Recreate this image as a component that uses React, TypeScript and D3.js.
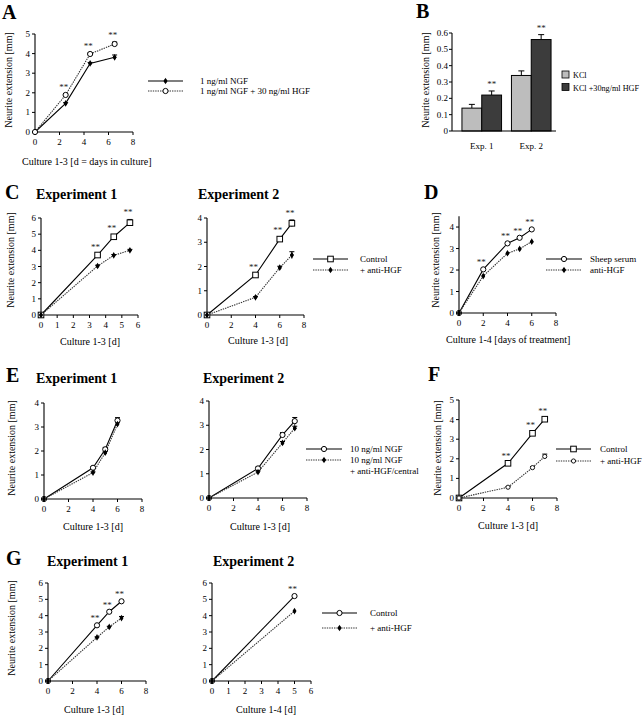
import React from "react";
import * as d3 from "d3";

const FONT = "'Liberation Serif', 'Times New Roman', serif";

// ---------- Panel A ----------
const A_days = [0, 2.5, 4.5, 6.5];
const A_ngf = [0, 1.46, 3.5, 3.81];
const A_ngfErr = [0, 0.04, 0.05, 0.12];
const A_ngfHgf = [0, 1.89, 3.98, 4.49];
const A_ngfHgfErr = [0, 0.04, 0.05, 0.1];
const A_stars = [2.5, 4.5, 6.5];
const A_xTicks = [0, 2, 4, 6, 8];
const A_yTicks = [0, 1, 2, 3, 4, 5];
const A_legend = ["1 ng/ml NGF", "1 ng/ml NGF + 30 ng/ml HGF"];

// ---------- Panel B ----------
const B_cats = ["Exp. 1", "Exp. 2"];
const B_series = ["KCl", "KCl +30ng/ml HGF"];
const B_kcl = [0.14, 0.34];
const B_kclErr = [0.023, 0.028];
const B_hgf = [0.22, 0.56];
const B_hgfErr = [0.025, 0.03];
const B_yTicks = [0, 0.1, 0.2, 0.3, 0.4, 0.5, 0.6];
const B_yTickLabels = ["0", "0.1", "0.2", "0.3", "0.4", "0.5", "0.6"];

// ---------- Panel C ----------
const C1_days = [0, 3.5, 4.5, 5.5];
const C1_control = [0, 3.71, 4.84, 5.71];
const C1_controlErr = [0, 0.08, 0.08, 0.2];
const C1_anti = [0, 3.03, 3.69, 4.0];
const C1_antiErr = [0, 0.05, 0.05, 0.06];
const C1_stars = [3.5, 4.5, 5.5];
const C1_xTicks = [0, 1, 2, 3, 4, 5, 6];
const C1_yTicks = [0, 1, 2, 3, 4, 5, 6];

const C2_days = [0, 4, 6, 7];
const C2_control = [0, 1.65, 3.13, 3.78];
const C2_controlErr = [0, 0.05, 0.08, 0.14];
const C2_anti = [0, 0.73, 1.95, 2.47];
const C2_antiErr = [0, 0.03, 0.06, 0.14];
const C2_stars = [4, 6, 7];
const C2_xTicks = [0, 2, 4, 6, 8];
const C2_yTicks = [0, 1, 2, 3, 4];
const C_legend = ["Control", "+ anti-HGF"];

// ---------- Panel D ----------
const D_days = [0, 2, 4, 5, 6];
const D_sheep = [0, 2.03, 3.24, 3.5, 3.89];
const D_anti = [0, 1.72, 2.78, 2.98, 3.32];
const D_stars = [2, 4, 5, 6];
const D_xTicks = [0, 2, 4, 6, 8];
const D_yTicks = [0, 1, 2, 3, 4];
const D_legend = ["Sheep serum", "anti-HGF"];

// ---------- Panel E ----------
const E1_days = [0, 4, 5, 6];
const E1_ngf = [0, 1.3, 2.07, 3.27];
const E1_ngfErr = [0, 0.05, 0.08, 0.12];
const E1_anti = [0, 1.1, 1.93, 3.12];
const E1_antiErr = [0, 0.03, 0.05, 0.06];
const E2_days = [0, 4, 6, 7];
const E2_ngf = [0, 1.22, 2.6, 3.17];
const E2_ngfErr = [0, 0.06, 0.1, 0.15];
const E2_anti = [0, 1.07, 2.27, 2.88];
const E2_antiErr = [0, 0.04, 0.06, 0.08];
const E_xTicks = [0, 2, 4, 6, 8];
const E_yTicks = [0, 1, 2, 3, 4];
const E_legend = ["10 ng/ml NGF", "10 ng/ml NGF", "+ anti-HGF/central"];

// ---------- Panel F ----------
const F_days = [0, 4, 6, 7];
const F_control = [0, 1.77, 3.3, 4.02];
const F_controlErr = [0, 0.04, 0.06, 0.08];
const F_anti = [0, 0.55, 1.55, 2.12];
const F_antiErr = [0, 0.03, 0.05, 0.12];
const F_stars = [4, 6, 7];
const F_xTicks = [0, 2, 4, 6, 8];
const F_yTicks = [0, 1, 2, 3, 4, 5];
const F_legend = ["Control", "+ anti-HGF"];

// ---------- Panel G ----------
const G1_days = [0, 4, 5, 6];
const G1_control = [0, 3.41, 4.24, 4.88];
const G1_anti = [0, 2.67, 3.31, 3.85];
const G1_antiErr = [0, 0.03, 0.04, 0.1];
const G1_stars = [4, 5, 6];
const G1_xTicks = [0, 2, 4, 6, 8];
const G2_days = [0, 5];
const G2_control = [0, 5.2];
const G2_anti = [0, 4.28];
const G2_stars = [5];
const G2_xTicks = [0, 1, 2, 3, 4, 5, 6];
const G_yTicks = [0, 1, 2, 3, 4, 5, 6];
const G_legend = ["Control", "+ anti-HGF"];

const Y_LABEL = "Neurite extension [mm]";
const LEG_SIZE = 9;

type Marker = "circleOpen" | "squareOpen" | "diamondFilled" | "circleSmall";

interface Series {
  xs: number[];
  ys: number[];
  errs?: number[];
  marker: Marker;
  dashed: boolean;
}

const diamondPath = d3.symbol().type(d3.symbolDiamond).size(13)() as string;

function MarkerShape({ m, x, y }: { m: Marker; x: number; y: number }) {
  if (m === "circleOpen")
    return <circle cx={x} cy={y} r={2.6} fill="#fff" stroke="#000" strokeWidth={1} />;
  if (m === "circleSmall")
    return <circle cx={x} cy={y} r={2.1} fill="#fff" stroke="#000" strokeWidth={0.9} />;
  if (m === "squareOpen")
    return <rect x={x - 2.8} y={y - 2.8} width={5.6} height={5.6} fill="#fff" stroke="#000" strokeWidth={1} />;
  return (
    <g transform={`translate(${x},${y})`}>
      <path d={diamondPath} fill="#000" />
      <circle r={1.7} fill="#000" />
    </g>
  );
}

function lineStyle(dashed: boolean) {
  return dashed
    ? { stroke: "#333", strokeWidth: 1.1, strokeDasharray: "1.4 1" }
    : { stroke: "#000", strokeWidth: 1.1 };
}

interface PlotProps {
  xDom: [number, number];
  xRange: [number, number];
  yDom: [number, number];
  yRange: [number, number];
  xTicks: number[];
  yTicks: number[];
  series: Series[];
  stars?: number[];
  starRef?: number;
}

function LinePlot({ xDom, xRange, yDom, yRange, xTicks, yTicks, series, stars, starRef }: PlotProps) {
  const x = d3.scaleLinear().domain(xDom).range(xRange);
  const y = d3.scaleLinear().domain(yDom).range(yRange);
  const line = d3.line<[number, number]>().x((d) => x(d[0])).y((d) => y(d[1]));
  const x0 = x(0);
  const y0 = y(0);
  const ref = starRef !== undefined ? series[starRef] : null;
  return (
    <g fontFamily={FONT}>
      <line x1={x0} x2={x0} y1={y0} y2={yRange[1]} stroke="#000" strokeWidth={1.1} />
      <line x1={x0} x2={xRange[1]} y1={y0} y2={y0} stroke="#000" strokeWidth={1.1} />
      {yTicks.map((t) => (
        <g key={"y" + t}>
          <line x1={x0 - 3} x2={x0} y1={y(t)} y2={y(t)} stroke="#000" strokeWidth={1} />
          <text x={x0 - 5} y={y(t) + 3} fontSize={9} textAnchor="end">{t}</text>
        </g>
      ))}
      {xTicks.map((t) => (
        <g key={"x" + t}>
          <line x1={x(t)} x2={x(t)} y1={y0} y2={y0 + 3} stroke="#000" strokeWidth={1} />
          <text x={x(t)} y={y0 + 13} fontSize={9} textAnchor="middle">{t}</text>
        </g>
      ))}
      {series.map((s, i) => (
        <path key={"l" + i} d={line(s.xs.map((v, j) => [v, s.ys[j]] as [number, number])) || ""} fill="none" {...lineStyle(s.dashed)} />
      ))}
      {series.map((s, i) =>
        s.errs
          ? s.errs.map((e, j) =>
              e > 0 ? (
                <g key={"e" + i + "-" + j}>
                  <line x1={x(s.xs[j])} x2={x(s.xs[j])} y1={y(s.ys[j] - e)} y2={y(s.ys[j] + e)} stroke="#000" strokeWidth={1} />
                  <line x1={x(s.xs[j]) - 2.5} x2={x(s.xs[j]) + 2.5} y1={y(s.ys[j] + e)} y2={y(s.ys[j] + e)} stroke="#000" strokeWidth={1} />
                </g>
              ) : null
            )
          : null
      )}
      {series.map((s, i) =>
        s.xs.map((v, j) => <MarkerShape key={"m" + i + "-" + j} m={s.marker} x={x(v)} y={y(s.ys[j])} />)
      )}
      {ref && stars
        ? stars.map((sx) => {
            const j = ref.xs.indexOf(sx);
            const top = ref.ys[j] + (ref.errs ? ref.errs[j] : 0);
            return (
              <text key={"s" + sx} x={x(sx) - 2} y={y(top) - 4} fontSize={9} textAnchor="middle" fill="#222">**</text>
            );
          })
        : null}
    </g>
  );
}

function LegendLine({ x1, x2, y, marker, dashed }: { x1: number; x2: number; y: number; marker: Marker; dashed: boolean }) {
  return (
    <g>
      <line x1={x1} x2={x2} y1={y} y2={y} fill="none" {...lineStyle(dashed)} />
      <MarkerShape m={marker} x={(x1 + x2) / 2} y={y} />
    </g>
  );
}

function YLabel({ x, cy }: { x: number; cy: number }) {
  return (
    <text transform={`translate(${x},${cy}) rotate(-90)`} textAnchor="middle" dominantBaseline="middle" fontSize={10} fontFamily={FONT}>
      {Y_LABEL}
    </text>
  );
}

function Letter({ x, y, t }: { x: number; y: number; t: string }) {
  return (
    <text x={x} y={y} fontSize={20} fontWeight="bold" fontFamily={FONT}>{t}</text>
  );
}

function Title({ x, y, t }: { x: number; y: number; t: string }) {
  return (
    <text x={x} y={y} fontSize={14} fontWeight="bold" fontFamily={FONT}>{t}</text>
  );
}

function Txt({ x, y, t, size = LEG_SIZE, anchor = "start" }: { x: number; y: number; t: string; size?: number; anchor?: string }) {
  return (
    <text x={x} y={y} fontSize={size} fontFamily={FONT} textAnchor={anchor as any}>{t}</text>
  );
}

function PanelB() {
  const y = d3.scaleLinear().domain([0, 0.6]).range([131, 33]);
  const xb = d3.scaleBand<string>().domain(B_cats).range([457, 556]).paddingInner(0.2).paddingOuter(0.1);
  const xs = d3.scaleBand<string>().domain(B_series).range([0, xb.bandwidth()]);
  const vals = [B_kcl, B_hgf];
  const errs = [B_kclErr, B_hgfErr];
  const fills = ["#bdbdbd", "#3c3c3c"];
  const x0 = 452;
  return (
    <g fontFamily={FONT}>
      {B_cats.map((c, ci) =>
        B_series.map((s, si) => {
          const bx = (xb(c) as number) + (xs(s) as number);
          const bw = xs.bandwidth();
          const v = vals[si][ci];
          const e = errs[si][ci];
          const cx = bx + bw / 2;
          return (
            <g key={c + s}>
              <line x1={cx} x2={cx} y1={y(v)} y2={y(v + e)} stroke="#000" strokeWidth={1} />
              <line x1={cx - 3} x2={cx + 3} y1={y(v + e)} y2={y(v + e)} stroke="#000" strokeWidth={1} />
              <rect x={bx} y={y(v)} width={bw} height={y(0) - y(v)} fill={fills[si]} stroke="#000" strokeWidth={1} />
              {si === 1 ? (
                <text x={cx} y={y(v + e) - 4} fontSize={9} textAnchor="middle" fill="#222">**</text>
              ) : null}
            </g>
          );
        })
      )}
      <line x1={x0} x2={x0} y1={y(0)} y2={y(0.6)} stroke="#000" strokeWidth={1.1} />
      <line x1={x0} x2={556} y1={y(0)} y2={y(0)} stroke="#000" strokeWidth={1.1} />
      {B_yTicks.map((t, i) => (
        <g key={t}>
          <line x1={x0 - 3} x2={x0} y1={y(t)} y2={y(t)} stroke="#000" strokeWidth={1} />
          <text x={x0 - 4} y={y(t) + 3} fontSize={9} textAnchor="end">{B_yTickLabels[i]}</text>
        </g>
      ))}
      {B_cats.map((c) => (
        <text key={c} x={(xb(c) as number) + xb.bandwidth() / 2} y={149} fontSize={9} textAnchor="middle">{c}</text>
      ))}
      {B_series.map((s, i) => (
        <g key={s}>
          <rect x={562} y={71 + i * 12.5} width={7} height={7} fill={fills[i]} stroke="#000" strokeWidth={0.8} />
          <text x={573} y={78 + i * 12.5} fontSize={8.2}>{s}</text>
        </g>
      ))}
    </g>
  );
}

export default function App() {
  return (
    <svg width={643} height={720} style={{ position: "absolute", left: 0, top: 0, background: "#fff" }} fontFamily={FONT}>
      <rect width={643} height={720} fill="#fff" />

      {/* ===== A ===== */}
      <Letter x={2} y={19} t="A" />
      <LinePlot
        xDom={[0, 8]} xRange={[35, 133]} yDom={[0, 5]} yRange={[132, 34]}
        xTicks={A_xTicks} yTicks={A_yTicks}
        series={[
          { xs: A_days, ys: A_ngf, errs: A_ngfErr, marker: "diamondFilled", dashed: false },
          { xs: A_days, ys: A_ngfHgf, errs: A_ngfHgfErr, marker: "circleOpen", dashed: true },
        ]}
        stars={A_stars} starRef={1}
      />
      <YLabel x={10} cy={80} />
      <Txt x={22} y={165} t="Culture 1-3 [d = days in culture]" size={10} />
      <LegendLine x1={148} x2={183} y={81} marker="diamondFilled" dashed={false} />
      <LegendLine x1={148} x2={183} y={91} marker="circleOpen" dashed={true} />
      <Txt x={200} y={84} t={A_legend[0]} />
      <Txt x={200} y={94} t={A_legend[1]} />

      {/* ===== B ===== */}
      <Letter x={416} y={18} t="B" />
      <PanelB />
      <YLabel x={427} cy={80} />

      {/* ===== C ===== */}
      <Letter x={5} y={199} t="C" />
      <Title x={36} y={199} t="Experiment 1" />
      <Title x={198} y={199} t="Experiment 2" />
      <LinePlot
        xDom={[0, 6]} xRange={[41, 138]} yDom={[0, 6]} yRange={[315, 218]}
        xTicks={C1_xTicks} yTicks={C1_yTicks}
        series={[
          { xs: C1_days, ys: C1_control, errs: C1_controlErr, marker: "squareOpen", dashed: false },
          { xs: C1_days, ys: C1_anti, errs: C1_antiErr, marker: "diamondFilled", dashed: true },
        ]}
        stars={C1_stars} starRef={0}
      />
      <YLabel x={12} cy={260} />
      <Txt x={90} y={345} t="Culture 1-3 [d]" size={10} anchor="middle" />
      <LinePlot
        xDom={[0, 8]} xRange={[207, 304]} yDom={[0, 4]} yRange={[315, 218]}
        xTicks={C2_xTicks} yTicks={C2_yTicks}
        series={[
          { xs: C2_days, ys: C2_control, errs: C2_controlErr, marker: "squareOpen", dashed: false },
          { xs: C2_days, ys: C2_anti, errs: C2_antiErr, marker: "diamondFilled", dashed: true },
        ]}
        stars={C2_stars} starRef={0}
      />
      <Txt x={258} y={344} t="Culture 1-3 [d]" size={10} anchor="middle" />
      <LegendLine x1={313} x2={348} y={259} marker="squareOpen" dashed={false} />
      <LegendLine x1={313} x2={348} y={270} marker="diamondFilled" dashed={true} />
      <Txt x={360} y={262} t={C_legend[0]} />
      <Txt x={360} y={273} t={C_legend[1]} />

      {/* ===== D ===== */}
      <Letter x={424} y={199} t="D" />
      <LinePlot
        xDom={[0, 8]} xRange={[459, 556]} yDom={[0, 4.5]} yRange={[313, 216.3]}
        xTicks={D_xTicks} yTicks={D_yTicks}
        series={[
          { xs: D_days, ys: D_sheep, marker: "circleOpen", dashed: false },
          { xs: D_days, ys: D_anti, marker: "diamondFilled", dashed: true },
        ]}
        stars={D_stars} starRef={0}
      />
      <YLabel x={437} cy={260} />
      <Txt x={446} y={343} t="Culture 1-4 [days of treatment]" size={10} />
      <LegendLine x1={546} x2={582} y={259} marker="circleOpen" dashed={false} />
      <LegendLine x1={546} x2={582} y={270} marker="diamondFilled" dashed={true} />
      <Txt x={590} y={262} t={D_legend[0]} />
      <Txt x={590} y={273} t={D_legend[1]} />

      {/* ===== E ===== */}
      <Letter x={6} y={382} t="E" />
      <Title x={36} y={383} t="Experiment 1" />
      <Title x={203} y={383} t="Experiment 2" />
      <LinePlot
        xDom={[0, 8]} xRange={[44, 142]} yDom={[0, 4]} yRange={[499, 403]}
        xTicks={E_xTicks} yTicks={E_yTicks}
        series={[
          { xs: E1_days, ys: E1_ngf, errs: E1_ngfErr, marker: "circleOpen", dashed: false },
          { xs: E1_days, ys: E1_anti, errs: E1_antiErr, marker: "diamondFilled", dashed: true },
        ]}
      />
      <YLabel x={13} cy={448} />
      <Txt x={93} y={530} t="Culture 1-3 [d]" size={10} anchor="middle" />
      <LinePlot
        xDom={[0, 8]} xRange={[209, 307]} yDom={[0, 4]} yRange={[498, 401]}
        xTicks={E_xTicks} yTicks={E_yTicks}
        series={[
          { xs: E2_days, ys: E2_ngf, errs: E2_ngfErr, marker: "circleOpen", dashed: false },
          { xs: E2_days, ys: E2_anti, errs: E2_antiErr, marker: "diamondFilled", dashed: true },
        ]}
      />
      <Txt x={260} y={530} t="Culture 1-3 [d]" size={10} anchor="middle" />
      <LegendLine x1={306} x2={342} y={449} marker="circleOpen" dashed={false} />
      <LegendLine x1={306} x2={342} y={460} marker="diamondFilled" dashed={true} />
      <Txt x={350} y={452} t={E_legend[0]} />
      <Txt x={350} y={463} t={E_legend[1]} />
      <Txt x={350} y={474} t={E_legend[2]} />

      {/* ===== F ===== */}
      <Letter x={428} y={381} t="F" />
      <LinePlot
        xDom={[0, 8]} xRange={[459, 557]} yDom={[0, 5]} yRange={[498, 400]}
        xTicks={F_xTicks} yTicks={F_yTicks}
        series={[
          { xs: F_days, ys: F_control, errs: F_controlErr, marker: "squareOpen", dashed: false },
          { xs: F_days, ys: F_anti, errs: F_antiErr, marker: "circleSmall", dashed: true },
        ]}
        stars={F_stars} starRef={0}
      />
      <YLabel x={439} cy={448} />
      <Txt x={508} y={529} t="Culture 1-3 [d]" size={10} anchor="middle" />
      <LegendLine x1={556} x2={591} y={449} marker="squareOpen" dashed={false} />
      <LegendLine x1={556} x2={591} y={461} marker="circleSmall" dashed={true} />
      <Txt x={600} y={452} t={F_legend[0]} />
      <Txt x={600} y={464} t={F_legend[1]} />

      {/* ===== G ===== */}
      <Letter x={6} y={565} t="G" />
      <Title x={47} y={566} t="Experiment 1" />
      <Title x={213} y={566} t="Experiment 2" />
      <LinePlot
        xDom={[0, 8]} xRange={[48, 146]} yDom={[0, 6]} yRange={[681, 583]}
        xTicks={G1_xTicks} yTicks={G_yTicks}
        series={[
          { xs: G1_days, ys: G1_control, marker: "circleOpen", dashed: false },
          { xs: G1_days, ys: G1_anti, errs: G1_antiErr, marker: "diamondFilled", dashed: true },
        ]}
        stars={G1_stars} starRef={0}
      />
      <YLabel x={13} cy={628} />
      <Txt x={94} y={713} t="Culture 1-3 [d]" size={10} anchor="middle" />
      <LinePlot
        xDom={[0, 6]} xRange={[212, 311]} yDom={[0, 6]} yRange={[681, 583]}
        xTicks={G2_xTicks} yTicks={G_yTicks}
        series={[
          { xs: G2_days, ys: G2_control, marker: "circleOpen", dashed: false },
          { xs: G2_days, ys: G2_anti, marker: "diamondFilled", dashed: true },
        ]}
        stars={G2_stars} starRef={0}
      />
      <Txt x={266} y={713} t="Culture 1-4 [d]" size={10} anchor="middle" />
      <LegendLine x1={322} x2={357} y={613} marker="circleOpen" dashed={false} />
      <LegendLine x1={322} x2={357} y={628} marker="diamondFilled" dashed={true} />
      <Txt x={370} y={616} t={G_legend[0]} />
      <Txt x={370} y={631} t={G_legend[1]} />
    </svg>
  );
}
